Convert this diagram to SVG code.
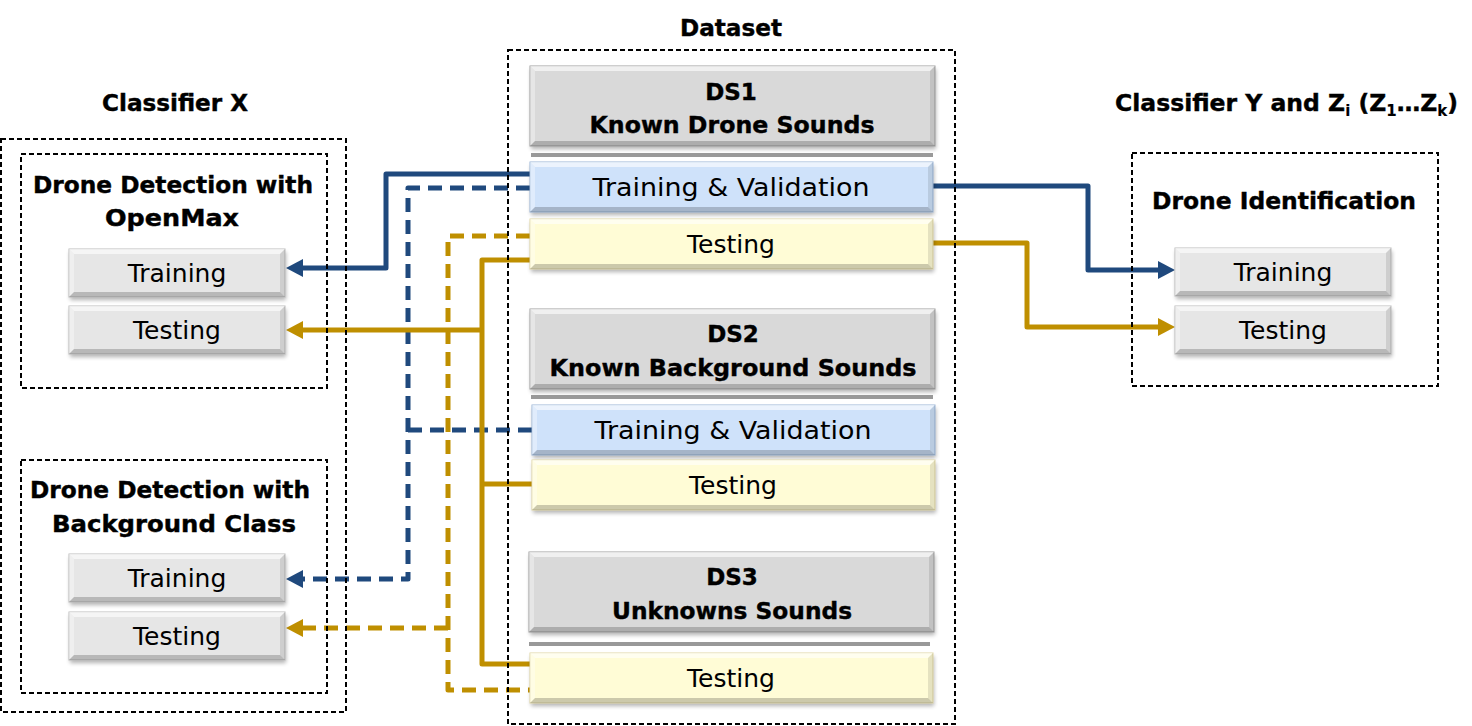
<svg xmlns="http://www.w3.org/2000/svg" xmlns:xlink="http://www.w3.org/1999/xlink" width="1472" height="726" viewBox="0 0 1472 726">
<style>
text{font-family:"DejaVu Sans","Liberation Sans",sans-serif;fill:#000;text-anchor:middle}
.r{font-size:25px}
.b{font-size:23px;font-weight:bold;stroke:#000;stroke-width:0.4}
.ttl{font-size:23px;font-weight:bold;stroke:#000;stroke-width:0.4}
.sub{font-size:15px;stroke-width:0.1}
.dash{fill:none;stroke:#000;stroke-width:2;stroke-dasharray:5 3}
.sh{fill:#000;opacity:.3;filter:url(#sh)}
.gray{fill:#e6e6e6;stroke:#bdbdbd;stroke-width:1}
.ds{fill:#d9d9d9;stroke:#a0a0a0;stroke-width:1}
.blue{fill:#cfe2fa;stroke:#9bb6d8;stroke-width:1}
.yel{fill:#fffcd6;stroke:#e2d8a6;stroke-width:1}
.sep{stroke:#999;stroke-width:4}
.bt{fill:#fff;opacity:.6}
.bl{fill:#fff;opacity:.35}
.br{fill:#000;opacity:.1}
.bb{fill:#000;opacity:.2}
.cb{fill:none;stroke:#1f497d;stroke-width:5;stroke-linejoin:round}
.cg{fill:none;stroke:#bf8f00;stroke-width:5;stroke-linejoin:round}
.dsh{stroke-dasharray:14 8}
</style>
<defs>
<filter id="sh" x="-10%" y="-30%" width="120%" height="170%"><feGaussianBlur stdDeviation="2"/></filter>
<marker id="ab" viewBox="0 0 17 18" markerWidth="17" markerHeight="18" refX="3" refY="9" orient="auto" markerUnits="userSpaceOnUse"><path d="M0,0 L17,9 L0,18 z" fill="#1f497d"/></marker>
<marker id="ag" viewBox="0 0 17 18" markerWidth="17" markerHeight="18" refX="3" refY="9" orient="auto" markerUnits="userSpaceOnUse"><path d="M0,0 L17,9 L0,18 z" fill="#bf8f00"/></marker>
<g id="bv-s">
<polygon class="bt" points="0,0 216,0 211,5 5,5"/>
<polygon class="bl" points="0,0 5,5 5,43 0,48"/>
<polygon class="br" points="216,0 216,48 211,43 211,5"/>
<polygon class="bb" points="0,48 216,48 211,43 5,43"/>
</g>
<g id="bv-w">
<polygon class="bt" points="0,0 403,0 398,5 5,5"/>
<polygon class="bl" points="0,0 5,5 5,45 0,50"/>
<polygon class="br" points="403,0 403,50 398,45 398,5"/>
<polygon class="bb" points="0,50 403,50 398,45 5,45"/>
</g>
<g id="bv-d">
<polygon class="bt" points="0,0 405,0 400,5 5,5"/>
<polygon class="bl" points="0,0 5,5 5,75 0,80"/>
<polygon class="br" points="405,0 405,80 400,75 400,5"/>
<polygon class="bb" points="0,80 405,80 400,75 5,75"/>
</g>
</defs>
<rect width="1472" height="726" fill="#fff"/>

<g id="connectors">
<path class="cb" d="M530,174 H386 V268 H300" marker-end="url(#ab)"/>
<path class="cb" d="M933,186 H1088 V270 H1161" marker-end="url(#ab)"/>
<path class="cg" d="M933,243 H1027 V327 H1161" marker-end="url(#ag)"/>
<path class="cb dsh" d="M530,188 H408 V579 H300" marker-end="url(#ab)"/>
<path class="cb dsh" d="M532,430 H408"/>
<path class="cg dsh" d="M530,236 H448 V690 H530"/>
<path class="cg dsh" d="M448,628 H300" marker-end="url(#ag)"/>
<path class="cg" d="M530,260 H482 V664 H530"/>
<path class="cg" d="M482,330 H300" marker-end="url(#ag)"/>
<path class="cg" d="M482,484 H532"/>
</g>

<g id="classifier-x">
<rect class="dash" x="1" y="139" width="345" height="573"/>
<text class="ttl" x="175" y="111" textLength="146" lengthAdjust="spacingAndGlyphs">Classifier X</text>
</g>
<g id="dataset">
<rect class="dash" x="508" y="50" width="447" height="674"/>
<text class="ttl" x="731" y="36" textLength="102" lengthAdjust="spacingAndGlyphs">Dataset</text>
</g>
<g id="classifier-yz">
<text class="ttl" x="1115" y="111" style="text-anchor:start;font-size:23.5px">Classifier Y and Z<tspan class="sub" dy="5">i</tspan><tspan dy="-5"> (Z</tspan><tspan class="sub" dy="5">1</tspan><tspan dy="-5">…Z</tspan><tspan class="sub" dy="5">k</tspan><tspan dy="-5">)</tspan></text>
</g>

<g id="openmax">
<rect class="dash" x="21" y="154" width="306" height="234"/>
<text class="b" x="173" y="193" textLength="280" lengthAdjust="spacingAndGlyphs">Drone Detection with</text>
<text class="b" x="172" y="226" textLength="134" lengthAdjust="spacingAndGlyphs">OpenMax</text>
</g>
<g id="om-training">
<rect class="sh" x="70" y="252" width="216" height="48"/>
<rect class="gray" x="69" y="249" width="216" height="48"/>
<use xlink:href="#bv-s" x="69" y="249"/>
<text class="r" x="177" y="282">Training</text>
</g>
<g id="om-testing">
<rect class="sh" x="70" y="309" width="216" height="48"/>
<rect class="gray" x="69" y="306" width="216" height="48"/>
<use xlink:href="#bv-s" x="69" y="306"/>
<text class="r" x="177" y="339">Testing</text>
</g>

<g id="background-class">
<rect class="dash" x="21" y="460" width="306" height="233"/>
<text class="b" x="170" y="498" textLength="280" lengthAdjust="spacingAndGlyphs">Drone Detection with</text>
<text class="b" x="174" y="532" textLength="244" lengthAdjust="spacingAndGlyphs">Background Class</text>
</g>
<g id="bg-training">
<rect class="sh" x="70" y="557" width="216" height="48"/>
<rect class="gray" x="69" y="554" width="216" height="48"/>
<use xlink:href="#bv-s" x="69" y="554"/>
<text class="r" x="177" y="587">Training</text>
</g>
<g id="bg-testing">
<rect class="sh" x="70" y="615" width="216" height="48"/>
<rect class="gray" x="69" y="612" width="216" height="48"/>
<use xlink:href="#bv-s" x="69" y="612"/>
<text class="r" x="177" y="645">Testing</text>
</g>

<g id="drone-identification">
<rect class="dash" x="1132" y="153" width="306" height="233"/>
<text class="b" x="1284" y="209" textLength="264" lengthAdjust="spacingAndGlyphs">Drone Identification</text>
</g>
<g id="id-training">
<rect class="sh" x="1176" y="251" width="216" height="48"/>
<rect class="gray" x="1175" y="248" width="216" height="48"/>
<use xlink:href="#bv-s" x="1175" y="248"/>
<text class="r" x="1283" y="281">Training</text>
</g>
<g id="id-testing">
<rect class="sh" x="1176" y="309" width="216" height="48"/>
<rect class="gray" x="1175" y="306" width="216" height="48"/>
<use xlink:href="#bv-s" x="1175" y="306"/>
<text class="r" x="1283" y="339">Testing</text>
</g>

<g id="ds1">
<rect class="sh" x="531" y="69" width="405" height="80"/>
<rect class="ds" x="530" y="66" width="405" height="80"/>
<use xlink:href="#bv-d" x="530" y="66"/>
<text class="b" x="731" y="100">DS1</text>
<text class="b" x="732" y="133" textLength="285" lengthAdjust="spacingAndGlyphs">Known Drone Sounds</text>
<line class="sep" x1="531" y1="155" x2="933" y2="155"/>
</g>
<g id="ds1-trainval">
<rect class="sh" x="531" y="165" width="403" height="50"/>
<rect class="blue" x="530" y="162" width="403" height="50"/>
<use xlink:href="#bv-w" x="530" y="162"/>
<text class="r" x="731" y="196" textLength="277" lengthAdjust="spacingAndGlyphs">Training &amp; Validation</text>
</g>
<g id="ds1-testing">
<rect class="sh" x="531" y="222" width="403" height="50"/>
<rect class="yel" x="530" y="219" width="403" height="50"/>
<use xlink:href="#bv-w" x="530" y="219"/>
<text class="r" x="731" y="253">Testing</text>
</g>

<g id="ds2">
<rect class="sh" x="531" y="312" width="405" height="80"/>
<rect class="ds" x="530" y="309" width="405" height="80"/>
<use xlink:href="#bv-d" x="530" y="309"/>
<text class="b" x="733" y="342">DS2</text>
<text class="b" x="733" y="376" textLength="367" lengthAdjust="spacingAndGlyphs">Known Background Sounds</text>
<line class="sep" x1="531" y1="397" x2="933" y2="397"/>
</g>
<g id="ds2-trainval">
<rect class="sh" x="533" y="408" width="403" height="50"/>
<rect class="blue" x="532" y="405" width="403" height="50"/>
<use xlink:href="#bv-w" x="532" y="405"/>
<text class="r" x="733" y="439" textLength="277" lengthAdjust="spacingAndGlyphs">Training &amp; Validation</text>
</g>
<g id="ds2-testing">
<rect class="sh" x="533" y="463" width="403" height="50"/>
<rect class="yel" x="532" y="460" width="403" height="50"/>
<use xlink:href="#bv-w" x="532" y="460"/>
<text class="r" x="733" y="494">Testing</text>
</g>

<g id="ds3">
<rect class="sh" x="530" y="555" width="405" height="80"/>
<rect class="ds" x="529" y="552" width="405" height="80"/>
<use xlink:href="#bv-d" x="529" y="552"/>
<text class="b" x="732" y="585">DS3</text>
<text class="b" x="732" y="619" textLength="240" lengthAdjust="spacingAndGlyphs">Unknowns Sounds</text>
<line class="sep" x1="529" y1="644" x2="930" y2="644"/>
</g>
<g id="ds3-testing">
<rect class="sh" x="531" y="656" width="403" height="50"/>
<rect class="yel" x="530" y="653" width="403" height="50"/>
<use xlink:href="#bv-w" x="530" y="653"/>
<text class="r" x="731" y="687">Testing</text>
</g>
</svg>
